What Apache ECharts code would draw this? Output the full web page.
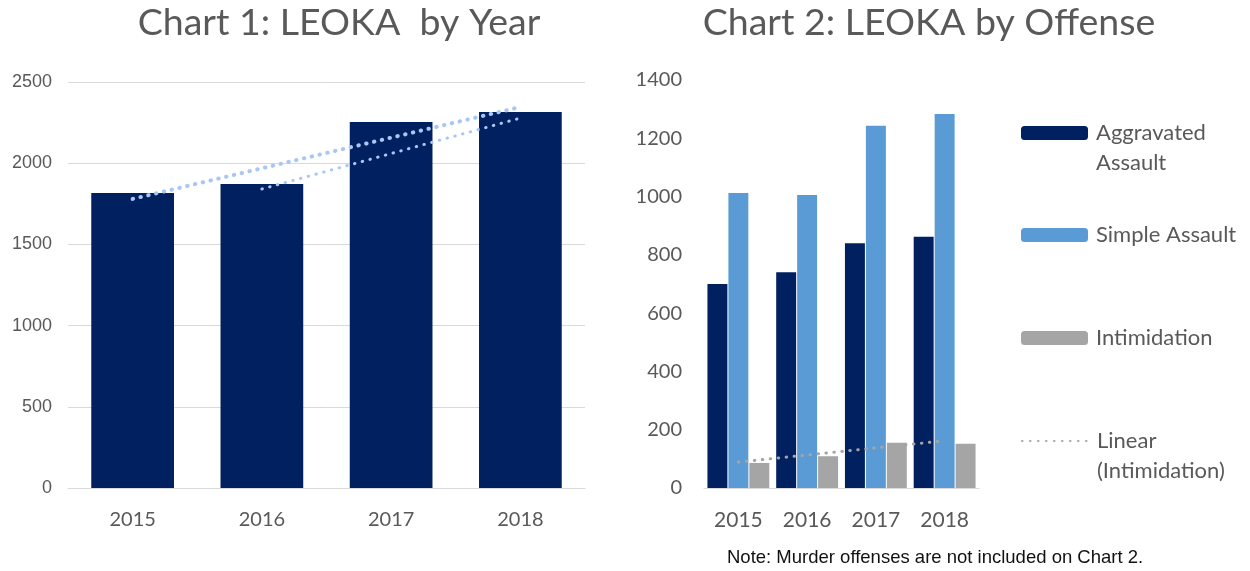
<!DOCTYPE html>
<html>
<head>
<meta charset="utf-8">
<script src="https://cdn.jsdelivr.net/npm/echarts@6/dist/echarts.min.js"></script>
<style>
  html, body { margin: 0; padding: 0; background: #fff; }
  #main { width: 1250px; height: 571px; }
</style>
</head>
<body>
<div id="main"></div>
<script>
var years = ['2015', '2016', '2017', '2018'];

// chart 1
var totalLeoka = [1816, 1872, 2254, 2315];
var trendA = [1780, '-', '-', 2346];
var trendB = ['-', 1841, '-', 2278];

// chart 2
var aggravatedAssault = [700, 740, 840, 862];
var simpleAssault = [1012, 1005, 1243, 1283];
var intimidation = [86, 109, 155, 152];
var intimidationTrend = [89, '-', '-', 162];

var chart1Ticks = [0, 500, 1000, 1500, 2000, 2500];
var chart2Ticks = [0, 200, 400, 600, 800, 1000, 1200, 1400];

var gray = '#595959';
var calibri = 'Lato';

var dom = document.getElementById('main');
var myChart = echarts.init(dom, null, { renderer: 'canvas' });

function legendFor(name, top, twoLines) {
    return {
        data: [name],
        orient: 'vertical',
        left: 1021,
        top: top,
        padding: 0,
        itemWidth: 67,
        itemHeight: 14,
        selectedMode: false,
        // leading blank line keeps the icon level with the first text line
        formatter: function (n) { return twoLines ? '\n' + n : n; },
        textStyle: {
            fontFamily: calibri,
            fontSize: 22,
            color: gray,
            lineHeight: 30,
            padding: [0, 0, 0, 3]
        }
    };
}

var plainNumber = function (v) { return String(v); };

var option = {
    animation: false,
    title: [
        {
            text: 'Chart 1: LEOKA  by Year',
            left: 339, top: 4, padding: 0, textAlign: 'center',
            textStyle: { fontFamily: calibri, fontSize: 37.5, fontWeight: 'normal', color: gray }
        },
        {
            text: 'Chart 2: LEOKA by Offense',
            left: 929, top: 4, padding: 0, textAlign: 'center',
            textStyle: { fontFamily: calibri, fontSize: 37.5, fontWeight: 'normal', color: gray }
        }
    ],
    legend: [
        legendFor('Aggravated\nAssault', 88, true),
        legendFor('Simple Assault', 220, false),
        legendFor('Intimidation', 323, false),
        legendFor('Linear\n(Intimidation)', 396, true)
    ],
    grid: [
        { left: 68, right: 665, top: 82, bottom: 83 },
        { left: 704, right: 271, top: 80, bottom: 83 }
    ],
    xAxis: [
        {
            type: 'category', gridIndex: 0, data: years,
            axisTick: { show: false },
            axisLine: { lineStyle: { color: '#d9d9d9', width: 1 } },
            axisLabel: { fontFamily: calibri, fontSize: 20, color: gray, margin: 22 }
        },
        {
            type: 'category', gridIndex: 1, data: years,
            axisTick: { show: false },
            axisLine: { lineStyle: { color: '#d9d9d9', width: 1 } },
            axisLabel: { fontFamily: calibri, fontSize: 21, color: gray, margin: 22 }
        }
    ],
    yAxis: [
        {
            type: 'value', gridIndex: 0, min: chart1Ticks[0], max: chart1Ticks[chart1Ticks.length - 1], interval: 500,
            axisLine: { show: false }, axisTick: { show: false },
            splitLine: { lineStyle: { color: '#d9d9d9', width: 1 } },
            axisLabel: { fontFamily: 'Liberation Sans', fontSize: 18, color: gray, margin: 16, formatter: plainNumber }
        },
        {
            type: 'value', gridIndex: 1, min: chart2Ticks[0], max: chart2Ticks[chart2Ticks.length - 1], interval: 200,
            axisLine: { show: false }, axisTick: { show: false },
            splitLine: { show: false },
            axisLabel: { fontFamily: calibri, fontSize: 20, color: gray, margin: 22, formatter: plainNumber }
        }
    ],
    series: [
        {
            name: 'Total', type: 'bar', xAxisIndex: 0, yAxisIndex: 0,
            data: totalLeoka, barCategoryGap: '36%',
            itemStyle: { color: '#002060' }
        },
        {
            name: 'Trend A', type: 'line', xAxisIndex: 0, yAxisIndex: 0,
            data: trendA, connectNulls: true, symbol: 'none',
            lineStyle: { color: '#a9c6f5', width: 4, type: [0.5, 7.5], cap: 'round' }
        },
        {
            name: 'Trend B', type: 'line', xAxisIndex: 0, yAxisIndex: 0,
            data: trendB, connectNulls: true, symbol: 'none',
            lineStyle: { color: '#a9c6f5', width: 3, type: [0.5, 7.5], cap: 'round' }
        },
        {
            name: 'Aggravated\nAssault', type: 'bar', xAxisIndex: 1, yAxisIndex: 1,
            data: aggravatedAssault, barGap: '5%', barCategoryGap: '10%',
            itemStyle: { color: '#002060' }
        },
        {
            name: 'Simple Assault', type: 'bar', xAxisIndex: 1, yAxisIndex: 1,
            data: simpleAssault, barGap: '5%', barCategoryGap: '10%',
            itemStyle: { color: '#5b9bd5' }
        },
        {
            name: 'Intimidation', type: 'bar', xAxisIndex: 1, yAxisIndex: 1,
            data: intimidation, barGap: '5%', barCategoryGap: '10%',
            itemStyle: { color: '#a5a5a5' }
        },
        {
            name: 'Linear\n(Intimidation)', type: 'line', xAxisIndex: 1, yAxisIndex: 1,
            data: intimidationTrend, connectNulls: true,
            // zero-area path: legend shows only the dotted line
            symbol: 'path://M0,0L1,1', showSymbol: false,
            itemStyle: { color: '#a5a5a5' },
            lineStyle: { color: '#a5a5a5', width: 3, type: [0.5, 7.5], cap: 'round' }
        }
    ],
    graphic: [
        {
            type: 'text', left: 727, top: 548,
            style: {
                text: 'Note: Murder offenses are not included on Chart 2.',
                font: '18.5px "Liberation Sans"',
                fill: '#111'
            }
        }
    ]
};

myChart.setOption(option);
window.addEventListener('resize', myChart.resize);
</script>
</body>
</html>
